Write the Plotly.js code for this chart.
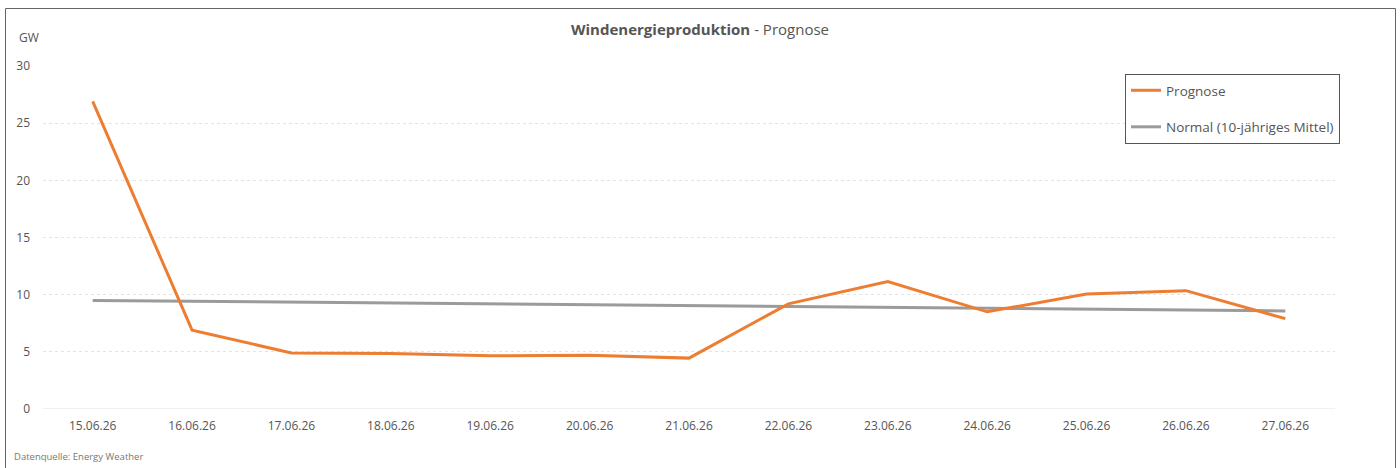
<!DOCTYPE html>
<html>
<head>
<meta charset="utf-8">
<script src="https://cdn.plot.ly/plotly-3.0.1.min.js"></script>
<style>
html,body{margin:0;padding:0;background:#fff;}
#chart{width:1400px;height:468px;}
</style>
</head>
<body>
<div id="chart"></div>
<script>
const dates = ["15.06.26","16.06.26","17.06.26","18.06.26","19.06.26","20.06.26","21.06.26","22.06.26","23.06.26","24.06.26","25.06.26","26.06.26","27.06.26"];
const prognose = [26.9, 6.9, 4.9, 4.85, 4.65, 4.7, 4.45, 9.2, 11.15, 8.5, 10.05, 10.35, 7.9];
const normal = [9.5, 9.42, 9.35, 9.28, 9.2, 9.12, 9.05, 8.97, 8.9, 8.82, 8.75, 8.67, 8.58];
const seriesNames = ["Prognose", "Normal (10-jähriges Mittel)"];

const FONT = "Open Sans, Noto Sans, sans-serif";
const L = 43, R = 65, T = 66, B = 59, W = 1400, H = 468;
const pw = W - L - R, ph = H - T - B;
const px = x => (x - L) / pw;
const py = y => (H - B - y) / ph;

const traces = [
  {x: dates, y: normal, name: seriesNames[1], type: "scatter", mode: "lines",
   line: {color: "#9b9b9b", width: 3}, legendgroup: "b", legendrank: 2},
  {x: dates, y: prognose, name: seriesNames[0], type: "scatter", mode: "lines",
   line: {color: "#ED7D31", width: 3}, legendgroup: "a", legendrank: 1}
];

const layout = {
  width: W, height: H,
  margin: {l: L, r: R, t: T, b: B},
  paper_bgcolor: "#fff", plot_bgcolor: "#fff",
  font: {family: FONT, color: "#555", size: 12},
  title: {text: "<b>Windenergieproduktion</b> - Prognose", x: 0.5, xref: "container", xanchor: "center",
          y: 1 - 30 / H, yref: "container", yanchor: "middle", font: {size: 15, color: "#555", family: FONT}},
  xaxis: {type: "category", range: [-0.5, 12.5], showgrid: false, zeroline: false, showline: false,
          ticks: "", tickfont: {size: 12, color: "#555"}, ticklabelstandoff: 8, fixedrange: true},
  yaxis: {range: [0, 30], dtick: 5, tick0: 0, showgrid: true, gridcolor: "#e3e3e3", griddash: "3px,3px", gridwidth: 1,
          zeroline: false, showline: false, ticks: "", tickfont: {size: 12, color: "#555"},
          ticklabelstandoff: 12, fixedrange: true},
  showlegend: true,
  legend: {x: px(1125), y: py(74), xanchor: "left", yanchor: "top", bordercolor: "#555", borderwidth: 1,
           bgcolor: "#fff", font: {size: 13.5, color: "#555"}, traceorder: "grouped", tracegroupgap: 16,
           itemwidth: 30, entrywidth: 230},
  shapes: [
    {type: "rect", xref: "paper", yref: "paper", x0: px(5.5), x1: px(1395.5), y0: py(475), y1: py(8.5),
     line: {color: "#666", width: 1}, fillcolor: "rgba(0,0,0,0)", layer: "below"},
    {type: "line", xref: "paper", yref: "y", x0: 0, x1: 1, y0: 0, y1: 0, line: {color: "#e0e0e0", width: 1}, layer: "below"}
  ],
  annotations: [
    {text: "GW", xref: "paper", yref: "paper", x: px(17), y: py(37), xanchor: "left", yanchor: "middle",
     showarrow: false, font: {size: 12, color: "#555"}},
    {text: "Datenquelle: Energy Weather", xref: "paper", yref: "paper", x: px(12), y: py(456), xanchor: "left", yanchor: "middle",
     showarrow: false, font: {size: 9.5, color: "#777"}}
  ]
};

Plotly.newPlot("chart", traces, layout, {displayModeBar: false, staticPlot: true});
</script>
</body>
</html>
